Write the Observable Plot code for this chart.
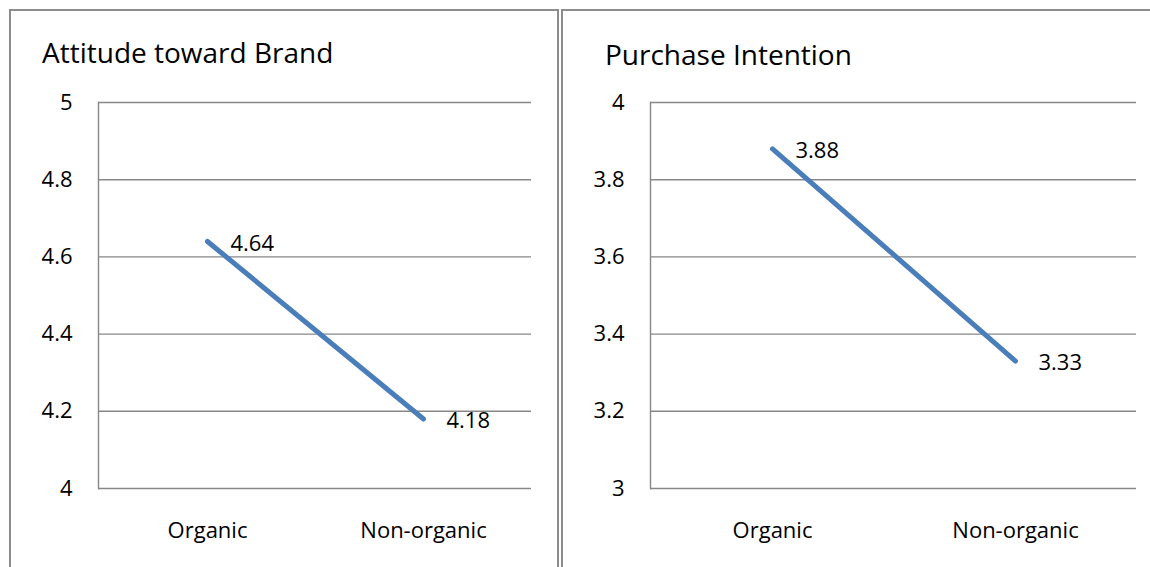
<!DOCTYPE html>
<html>
<head>
<meta charset="utf-8">
<script src="https://cdn.jsdelivr.net/npm/d3@7"></script>
<script src="https://cdn.jsdelivr.net/npm/@observablehq/plot@0.6"></script>
<style>
  html, body { margin: 0; padding: 0; background: #fff; }
  #page { position: relative; width: 1150px; height: 567px; overflow: hidden; font-family: "Open Sans", sans-serif; }
  .box { position: absolute; border: 2px solid #8c8c8c; box-sizing: border-box; }
  .title { position: absolute; font-size: 28px; line-height: 28px; color: #000; white-space: nowrap; }
  .chart { position: absolute; top: 0; }
  .chart svg { overflow: visible; }
</style>
</head>
<body>
<div id="page">
  <div class="box" style="left:9px; top:9px; width:550px; height:600px;"></div>
  <div class="box" style="left:561px; top:9px; width:620px; height:600px;"></div>
  <div class="title" style="left:42px; top:38px;">Attitude toward Brand</div>
  <div class="title" style="left:605px; top:40px;">Purchase Intention</div>
  <div id="left" class="chart" style="left:0px;"></div>
  <div id="right" class="chart" style="left:562px;"></div>
</div>
<script>
// Product type on the horizontal axis
const categories = ["Organic", "Non-organic"];

// Mean scores per product type
const attitudeValues = [4.64, 4.18];
const intentionValues = [3.88, 3.33];

// Y tick values for each panel
const attitudeTicks = [4, 4.2, 4.4, 4.6, 4.8, 5];
const intentionTicks = [3, 3.2, 3.4, 3.6, 3.8, 4];

const gridColor = "#878787";
const lineColor = "#4A7EBB";

function panel({values, ticks, width, marginLeft, marginRight}) {
  const data = categories.map((category, i) => ({category, value: values[i]}));
  return Plot.plot({
    width,
    height: 567,
    marginLeft,
    marginRight,
    marginTop: 102,
    marginBottom: 79,
    style: {fontFamily: "'Open Sans', sans-serif", fontSize: "22px", color: "#000", background: "transparent"},
    x: {type: "point", domain: categories, padding: 0.5, label: null},
    y: {domain: [ticks[0], ticks[ticks.length - 1]], label: null},
    marks: [
      Plot.ruleY(ticks, {stroke: gridColor, strokeWidth: 1.4}),
      Plot.frame({anchor: "left", stroke: gridColor, strokeWidth: 1.4}),
      Plot.axisY(ticks, {tickSize: 0, tickPadding: 26, tickFormat: d => String(d), fontSize: 22, fill: "#000", label: null}),
      Plot.axisX({tickSize: 0, tickPadding: 34, fontSize: 22, fill: "#000", label: null}),
      Plot.line(data, {x: "category", y: "value", stroke: lineColor, strokeWidth: 5, strokeLinecap: "round"}),
      Plot.text(data, {x: "category", y: "value", text: d => String(d.value), textAnchor: "start", dx: 23, dy: 2, fontSize: 22, fill: "#000"})
    ]
  });
}

document.getElementById("left").append(panel({
  values: attitudeValues, ticks: attitudeTicks, width: 557, marginLeft: 98, marginRight: 26
}));
document.getElementById("right").append(panel({
  values: intentionValues, ticks: intentionTicks, width: 588, marginLeft: 88, marginRight: 14
}));
</script>
</body>
</html>
